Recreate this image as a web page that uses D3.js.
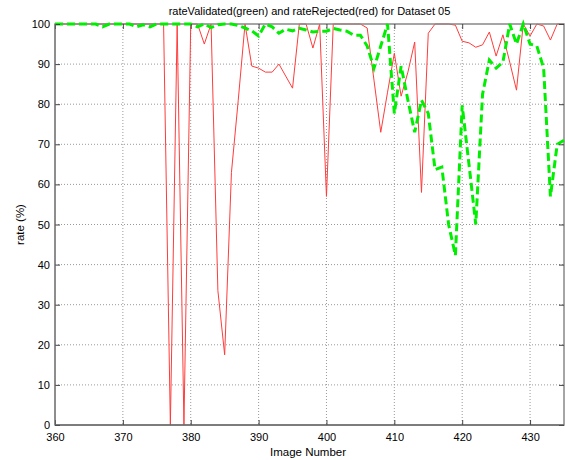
<!DOCTYPE html>
<html>
<head>
<meta charset="utf-8">
<script src="https://cdn.jsdelivr.net/npm/d3@7"></script>
<style>
  body { margin: 0; background: #fff; }
  svg text { font-family: "Liberation Sans", Arial, sans-serif; }
</style>
</head>
<body>
<div id="chart"></div>
<script>
// image numbers 360..435
const imageNumbers = d3.range(360, 436);

const rateRejected = [
  100, 100, 100, 100, 100, 100, 100, 100, 100, 100,   // 360-369
  100, 100, 100, 100, 100, 100, 100, 0, 100, 0,       // 370-379
  100, 100, 95, 100, 33.5, 17.5, 63, 81, 100, 89.5,   // 380-389
  89, 88, 88, 90, 87, 84, 100, 100, 94, 100,          // 390-399
  57, 100, 100, 100, 100, 100, 99, 86, 73, 83,        // 400-409
  92.7, 82, 88, 95.5, 58, 97.7, 100, 100, 100, 99.7,  // 410-419
  95.7, 95.3, 94.2, 94.8, 98, 92, 97.3, 90.5, 83.5, 100, // 420-429
  97, 100, 99.5, 96, 100, 100                          // 430-435
];

const rateValidated = [
  100, 100, 100, 100, 100, 100, 100, 99.3, 100, 100,  // 360-369
  100, 100, 99.3, 99.8, 99.3, 100, 100, 100, 100, 100, // 370-379
  100, 99.3, 100, 99.1, 99.8, 100, 100, 99.6, 99, 98.3, // 380-389
  97, 100, 99.3, 97.7, 98.7, 98.3, 98.9, 98.5, 98, 98.2, // 390-399
  98.2, 98.9, 98.5, 98.2, 97.2, 97.2, 94.5, 89, 94.5, 100, // 400-409
  77.7, 89.5, 81, 73, 81, 77.7, 63.7, 64.3, 50, 42.3, // 410-419
  79.7, 65, 50, 82.5, 91, 89, 90.5, 100, 95, 100,     // 420-429
  95, 94.5, 89, 57, 70, 71                             // 430-435
];

const xTicks = d3.range(360, 431, 10);
const yTicks = d3.range(0, 101, 10);

const width = 565, height = 460;
const margin = { top: 24, right: 1, bottom: 35, left: 55 };
const w = width - margin.left - margin.right;
const h = height - margin.top - margin.bottom;

const svg = d3.select('#chart').append('svg')
    .attr('width', width)
    .attr('height', height);

const g = svg.append('g')
    .attr('transform', `translate(${margin.left},${margin.top})`);

const x = d3.scaleLinear().domain([360, 435]).range([0, w]);
const y = d3.scaleLinear().domain([0, 100]).range([h, 0]);

// grid
g.append('g').selectAll('line')
    .data(xTicks.slice(1))
    .join('line')
    .attr('x1', d => x(d)).attr('x2', d => x(d))
    .attr('y1', 0).attr('y2', h)
    .attr('stroke', '#999').attr('stroke-dasharray', '1,2');

g.append('g').selectAll('line')
    .data(yTicks.slice(1, -1))
    .join('line')
    .attr('x1', 0).attr('x2', w)
    .attr('y1', d => y(d)).attr('y2', d => y(d))
    .attr('stroke', '#999').attr('stroke-dasharray', '1,2');

const line = d3.line()
    .x((d, i) => x(imageNumbers[i]))
    .y(d => y(d));

// rejected (red, thin)
g.append('path')
    .datum(rateRejected)
    .attr('fill', 'none')
    .attr('stroke', '#ff3c3c')
    .attr('stroke-width', 1)
    .attr('d', line);

// box
g.append('rect')
    .attr('width', w).attr('height', h)
    .attr('fill', 'none')
    .attr('stroke', '#888')
    .attr('stroke-width', 1.5);

// validated (green, dashed)
g.append('path')
    .datum(rateValidated)
    .attr('fill', 'none')
    .attr('stroke', '#00ee00')
    .attr('stroke-width', 3)
    .attr('stroke-dasharray', '8,4')
    .attr('d', line);

// axes
g.append('g')
    .attr('transform', `translate(0,${h})`)
    .call(d3.axisBottom(x).tickValues(xTicks).tickSize(-5).tickPadding(8));
g.append('g')
    .call(d3.axisLeft(y).tickValues(yTicks).tickSize(-5).tickPadding(5));
g.append('g')
    .call(d3.axisTop(x).tickValues(xTicks).tickSize(-5).tickFormat(''));
g.append('g')
    .attr('transform', `translate(${w},0)`)
    .call(d3.axisRight(y).tickValues(yTicks).tickSize(-5).tickFormat(''));

g.selectAll('.domain').remove();
g.selectAll('.tick line').attr('stroke', '#444');
g.selectAll('.tick text')
    .attr('fill', '#000')
    .style('font-size', '11px');

g.append('line')
    .attr('x1', 0).attr('x2', w).attr('y1', h).attr('y2', h)
    .attr('stroke', '#555');
g.append('line')
    .attr('x1', 0).attr('x2', 0).attr('y1', 0).attr('y2', h)
    .attr('stroke', '#777');

// labels
svg.append('text')
    .attr('x', margin.left + w / 2).attr('y', 15)
    .attr('text-anchor', 'middle')
    .style('font-size', '11px')
    .text('rateValidated(green) and rateRejected(red) for Dataset 05');

svg.append('text')
    .attr('x', 308).attr('y', 456)
    .attr('text-anchor', 'middle')
    .style('font-size', '11.5px')
    .text('Image Number');

svg.append('text')
    .attr('transform', `translate(24,${margin.top + h / 2}) rotate(-90)`)
    .attr('text-anchor', 'middle')
    .style('font-size', '11.5px')
    .text('rate (%)');
</script>
</body>
</html>
